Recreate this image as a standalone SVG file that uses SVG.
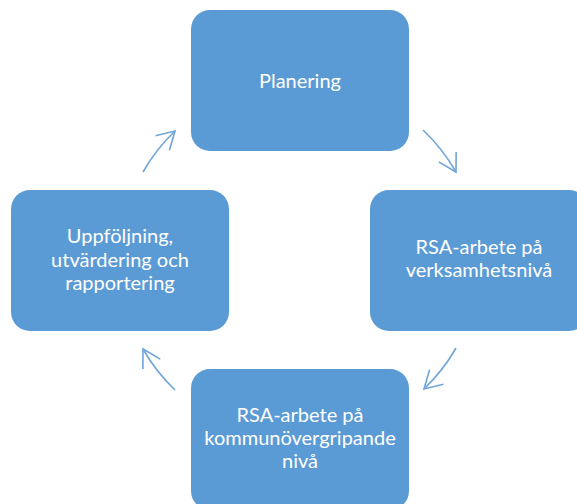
<svg xmlns="http://www.w3.org/2000/svg" width="577" height="504" viewBox="0 0 577 504">
<defs>
<style>
.box{fill:#5B9BD5;}
.lbl{fill:#FFFFFF;font-family:Lato,"Open Sans","Liberation Sans",sans-serif;font-size:20px;text-anchor:middle;}
.arc{fill:none;stroke:#6FA5DA;stroke-width:1.6;marker-end:url(#ah);}
</style>
<marker id="ah" markerUnits="userSpaceOnUse" orient="auto" viewBox="-20 -12 22 24" markerWidth="22" markerHeight="24" refX="0" refY="0" overflow="visible">
<path d="M-17.3,-10 L0,0 L-17.3,10" fill="none" stroke="#6FA5DA" stroke-width="1.6"/>
</marker>
</defs>
<rect width="577" height="504" fill="#FFFFFF"/>
<g id="connectors">
<path class="arc" d="M423,130 A179,179 0 0 1 456,172"/>
<path class="arc" d="M456,348 A179,179 0 0 1 424,389"/>
<path class="arc" d="M175,390 A179,179 0 0 1 143,349"/>
<path class="arc" d="M143,172 A179,179 0 0 1 175,131"/>
</g>
<g id="planering">
<rect class="box" x="191" y="10" width="218" height="141" rx="19"/>
<text class="lbl" x="300" y="88">Planering</text>
</g>
<g id="verksamhet">
<rect class="box" x="370" y="190" width="218" height="141" rx="19"/>
<text class="lbl" x="479" y="254">RSA-arbete på</text>
<text class="lbl" x="479" y="277">verksamhetsnivå</text>
</g>
<g id="kommun">
<rect class="box" x="191" y="369" width="218" height="141" rx="19"/>
<text class="lbl" x="300" y="422">RSA-arbete på</text>
<text class="lbl" x="300" y="445">kommunövergripande</text>
<text class="lbl" x="300" y="468">nivå</text>
</g>
<g id="uppfoljning">
<rect class="box" x="11" y="190" width="218" height="141" rx="19"/>
<text class="lbl" x="120" y="243">Uppföljning,</text>
<text class="lbl" x="120" y="267">utvärdering och</text>
<text class="lbl" x="120" y="290">rapportering</text>
</g>
</svg>
